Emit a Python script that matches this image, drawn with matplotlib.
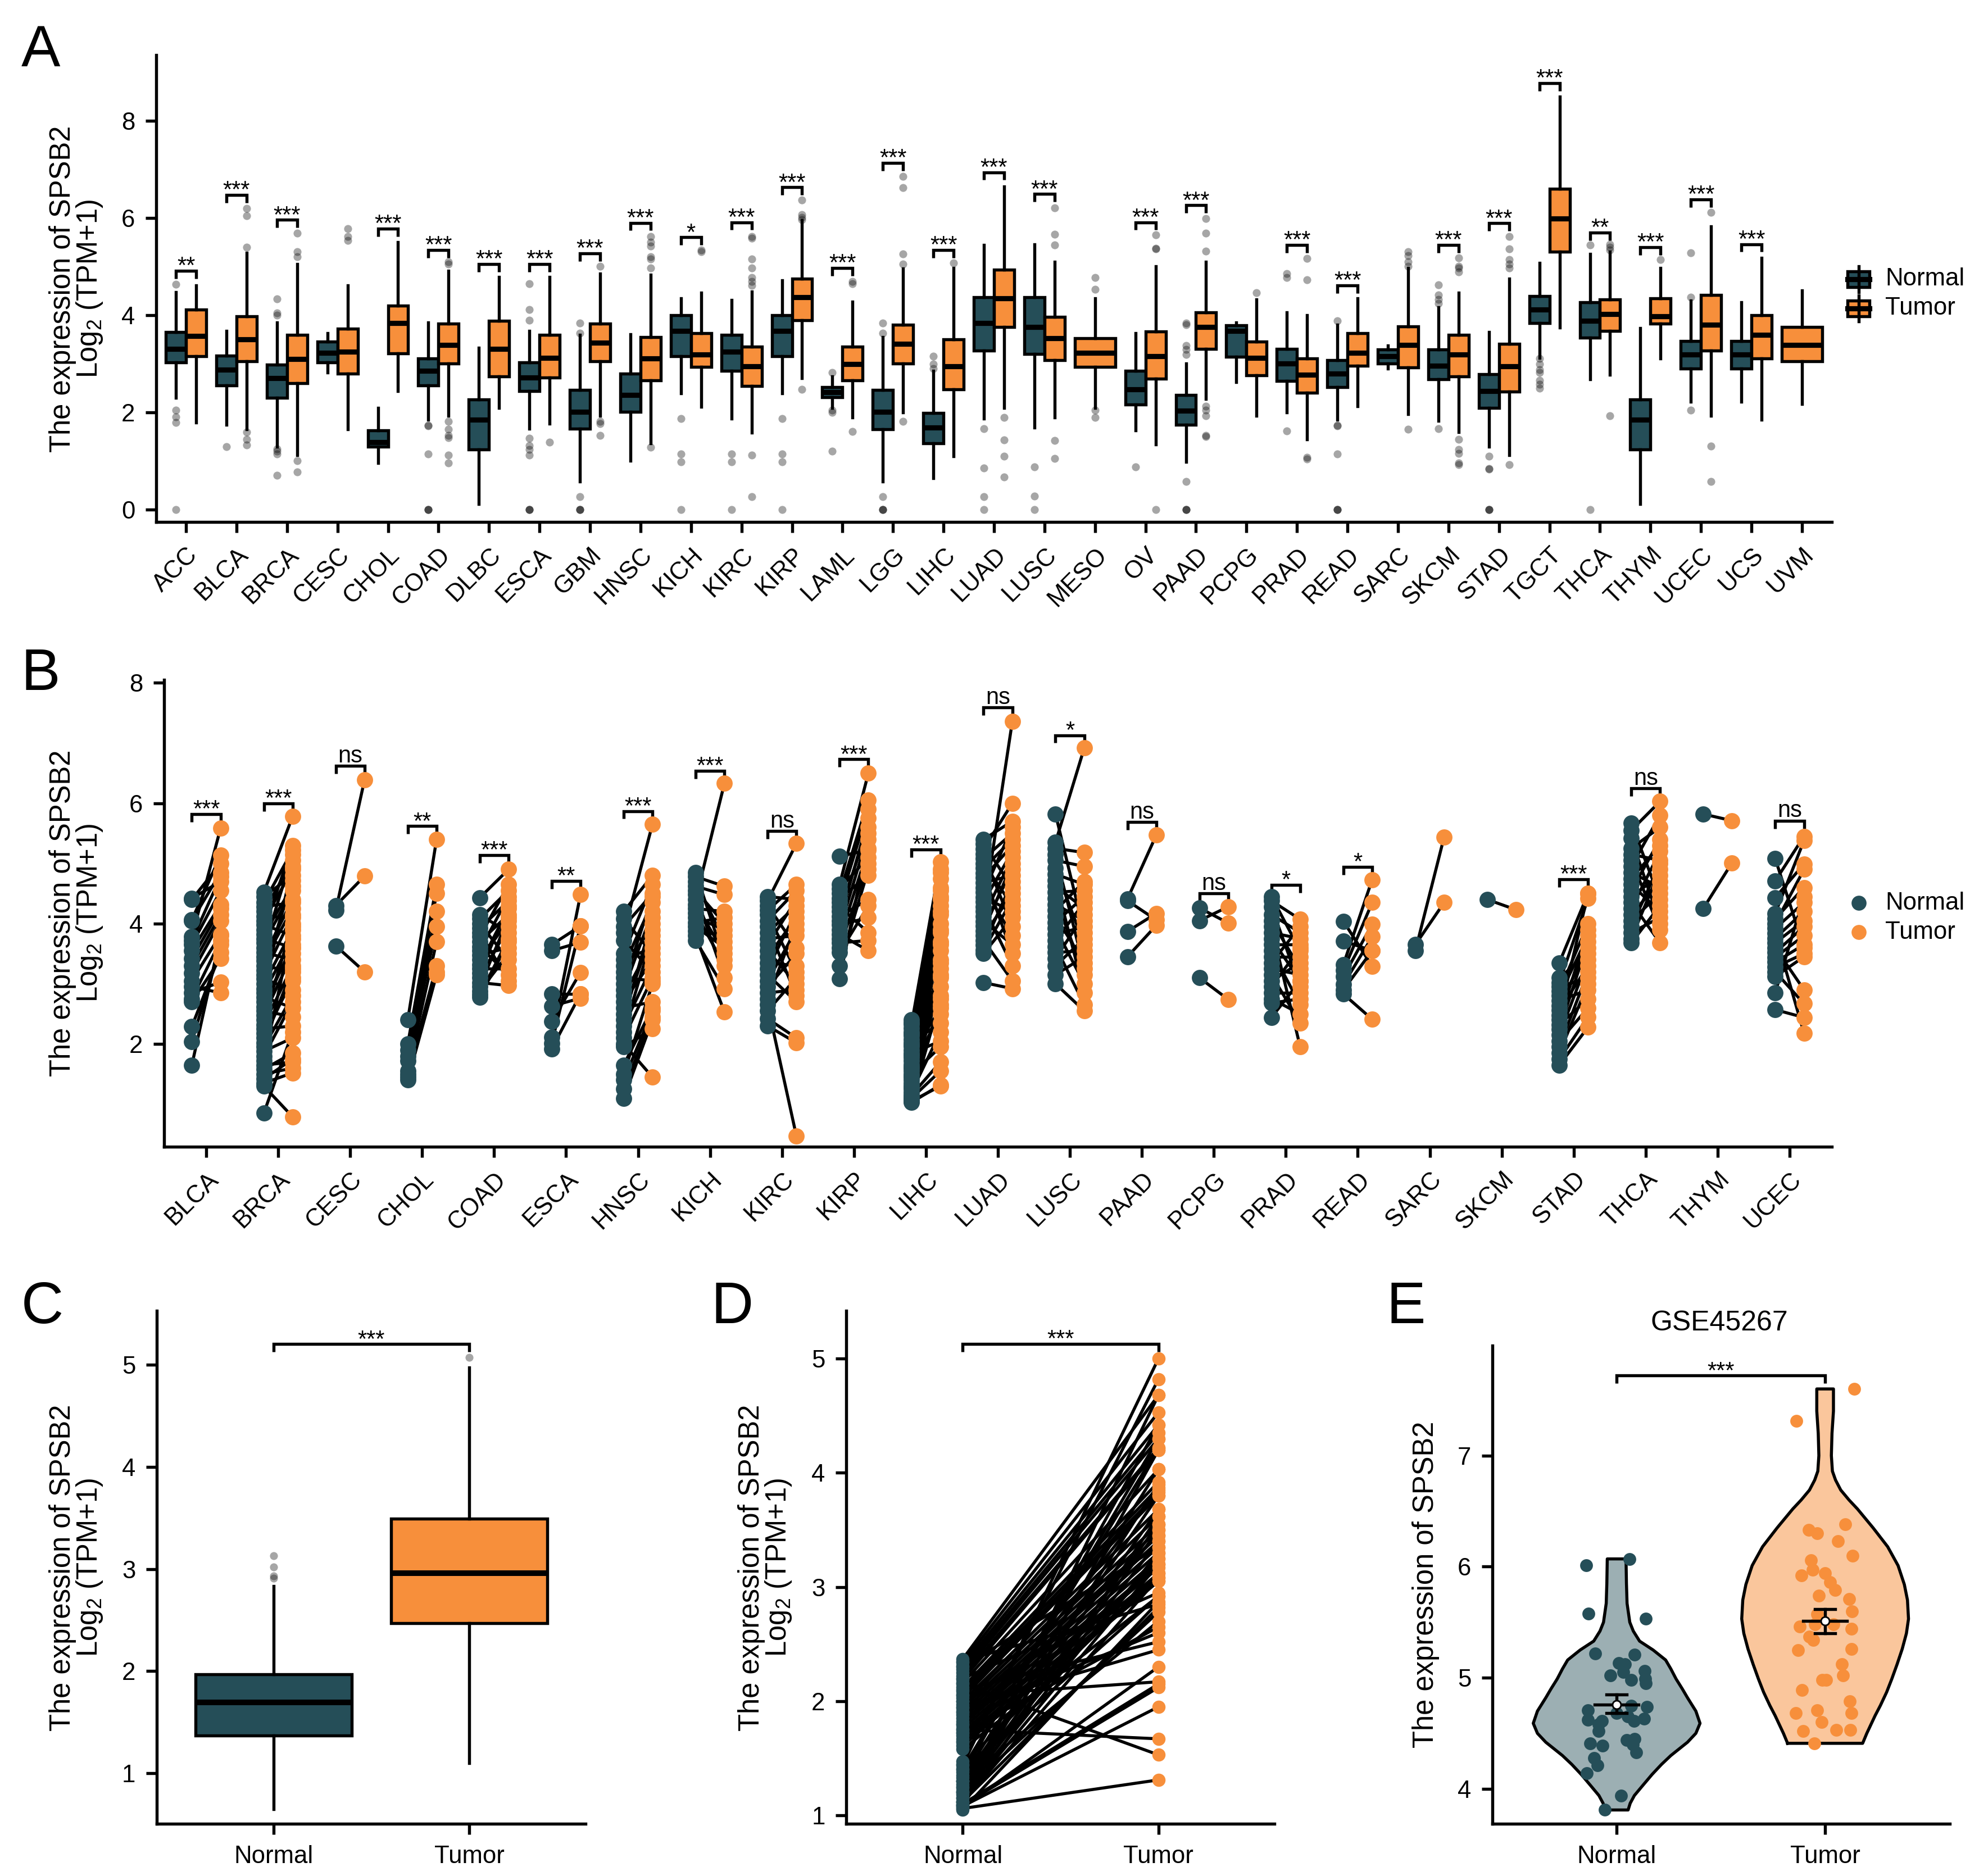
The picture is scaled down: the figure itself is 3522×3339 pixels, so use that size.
import matplotlib
matplotlib.use("Agg")
from matplotlib import pyplot as plt
from matplotlib.patches import Rectangle
from matplotlib.lines import Line2D
import numpy as np

W, H = 3522, 3339
TEAL = "#254E58"
ORANGE = "#F78F3B"
LW = 1.3

plt.rcParams['font.family'] = ['Liberation Sans', 'DejaVu Sans']
plt.rcParams['mathtext.fontset'] = 'custom'
plt.rcParams['mathtext.rm'] = 'Liberation Sans'
plt.rcParams['mathtext.default'] = 'regular'

# ---------- panel A ----------
a_labels = ['ACC','BLCA','BRCA','CESC','CHOL','COAD','DLBC','ESCA','GBM','HNSC','KICH','KIRC','KIRP','LAML','LGG','LIHC','LUAD','LUSC','MESO','OV','PAAD','PCPG','PRAD','READ','SARC','SKCM','STAD','TGCT','THCA','THYM','UCEC','UCS','UVM']

# None means the cancer has no normal samples
a_n_q1 = [3.03,2.56,2.30,3.03,1.30,2.56,1.24,2.44,1.66,2.01,3.15,2.85,3.15,2.31,1.65,1.36,3.27,3.20,None,2.16,1.75,3.14,2.65,2.52,3.01,2.68,2.09,3.84,3.54,1.24,2.90,2.90,None]
a_n_med = [3.31,2.88,2.70,3.23,1.39,2.86,1.85,2.72,2.01,2.36,3.68,3.25,3.68,2.42,2.01,1.69,3.84,3.76,None,2.47,2.03,3.68,3.01,2.80,3.15,2.96,2.44,4.12,3.88,1.85,3.19,3.19,None]
a_n_q3 = [3.65,3.17,2.98,3.46,1.63,3.11,2.27,3.03,2.46,2.80,4.00,3.59,4.00,2.52,2.46,1.99,4.37,4.37,None,2.85,2.36,3.79,3.31,3.07,3.29,3.29,2.78,4.39,4.26,2.27,3.47,3.47,None]
a_n_lo = [2.30,1.75,1.30,2.82,0.96,1.85,0.11,1.66,0.58,1.01,2.39,1.87,2.39,2.09,0.58,0.65,1.87,1.69,None,1.63,0.98,2.62,2.00,1.85,2.90,1.83,1.30,3.12,2.68,0.11,2.22,2.22,None]
a_n_hi = [4.47,3.68,3.85,3.63,2.09,3.85,3.33,3.68,3.59,3.61,4.35,4.31,4.71,2.74,3.55,2.86,5.44,5.46,None,3.63,3.01,3.85,4.06,3.80,3.38,4.16,3.65,5.07,5.26,3.73,4.30,4.27,None]
a_n_out = [[4.63,2.05,1.91,1.79,0],[1.30],[4.33,4.05,4.0,1.25,1.2,1.15,0.71],[],[],[1.73,1.72,1.14,0,0,0],[],[4.65,4.11,3.89,1.47,1.32,1.24,1.12,0,0,0],[3.84,3.63,0.27,0,0,0],[],[1.87,1.14,0.98,0],[1.14,0.98,0],[1.87,1.14,0.98,0],[2.82,2.05,2.0,1.2],[3.84,3.63,0.27,0,0,0],[3.15,2.99,2.9],[1.66,0.86,0.27,0],[0.88,0.28,0],[],[0.88],[3.84,3.8,3.37,3.29,3.19,0.58,0,0,0],[],[4.85,4.77,1.62],[3.88,1.73,1.72,1.14,0,0,0],[],[4.62,4.41,4.32,4.24,1.66],[1.1,0.84,0.83,0,0,0],[3.11,2.99,2.88,2.82,2.66,2.58,2.5],[5.44,0],[],[5.28,4.37,2.05],[],[]]

a_t_q1 = [3.15,3.05,2.60,2.80,3.21,3.01,2.74,2.72,3.05,2.66,2.93,2.54,3.90,2.66,3.01,2.47,3.76,3.07,2.93,2.69,3.31,2.76,2.40,2.96,2.92,2.74,2.43,5.30,3.68,3.82,3.27,3.11,3.05]
a_t_med = [3.57,3.50,3.10,3.25,3.84,3.39,3.31,3.12,3.43,3.11,3.19,2.95,4.37,2.99,3.41,2.95,4.35,3.53,3.23,3.15,3.76,3.12,2.77,3.23,3.39,3.19,2.95,5.99,4.02,3.98,3.80,3.59,3.39]
a_t_q3 = [4.11,3.98,3.60,3.72,4.19,3.82,3.88,3.59,3.82,3.55,3.63,3.35,4.75,3.35,3.80,3.50,4.94,3.96,3.53,3.66,4.06,3.45,3.11,3.63,3.77,3.59,3.41,6.60,4.32,4.35,4.41,4.00,3.76]
a_t_lo = [1.79,1.65,1.12,1.65,2.44,1.93,2.09,1.77,1.93,1.36,2.11,1.58,2.70,1.89,2.00,1.10,2.09,1.89,2.09,1.34,2.28,1.93,1.44,2.13,1.96,1.59,1.12,3.74,2.77,3.11,1.93,1.85,2.17]
a_t_hi = [4.61,5.28,5.05,4.61,5.50,4.91,4.79,4.79,4.85,4.83,4.46,4.49,5.95,4.28,4.96,4.97,6.64,5.10,4.34,5.01,5.10,4.32,4.00,4.34,4.97,4.46,4.75,8.50,5.30,4.97,5.83,5.18,4.51]
a_t_out = [[],[6.2,6.05,5.4,1.6,1.45,1.33],[5.69,5.3,5.2,1.01,0.77],[5.78,5.62,5.54],[],[5.1,5.05,1.81,1.65,1.53,1.48,1.12,0.96],[],[1.39],[5.0,1.81,1.77,1.53],[5.62,5.5,5.42,5.2,5.15,4.97,1.28],[5.34,5.3],[5.62,5.58,5.16,4.97,4.77,4.69,4.61,1.12,0.27],[6.37,6.07,6.01,5.96,2.47],[4.69,4.65,1.61],[6.85,6.62,5.26,5.05,1.81],[5.07],[1.89,1.43,1.1,0.67],[6.21,5.66,5.44,1.42,1.05],[4.77,4.53,2.04,1.89],[5.65,5.38,5.36,0],[5.99,5.69,5.32,2.13,2.05,1.93,1.53,1.5],[4.46],[5.17,4.73,1.08,1.04],[],[5.3,5.22,5.1,5.0,1.65],[5.18,5.01,4.97,4.89,1.44,1.24,1.16,0.96,0.92],[5.62,5.36,5.14,5.05,4.97,0.92],[],[5.46,5.4,5.34,1.93],[5.14],[6.11,1.31,0.58],[],[]]

a_sig_y = [4.91,6.47,5.96,None,5.78,5.34,5.05,5.05,5.27,5.9,5.6,5.91,6.63,4.97,7.13,5.34,6.94,6.49,None,5.91,6.26,None,5.44,4.61,None,5.44,5.89,8.77,5.7,5.4,6.38,5.46,None]
a_sig = ['**','***','***','','***','***','***','***','***','***','*','***','***','***','***','***','***','***','','***','***','','***','***','','***','***','***','**','***','***','***','']

# ---------- panel B, paired samples ----------
b_labels = ['BLCA','BRCA','CESC','CHOL','COAD','ESCA','HNSC','KICH','KIRC','KIRP','LIHC','LUAD','LUSC','PAAD','PCPG','PRAD','READ','SARC','SKCM','STAD','THCA','THYM','UCEC']
b_sig = ['***','***','ns','**','***','**','***','***','ns','***','***','ns','*','ns','ns','*','*','','','***','ns','','ns']
b_sig_y = [5.82,6.0,6.62,5.62,5.14,4.71,5.87,6.54,5.54,6.73,5.23,7.59,7.13,5.69,4.5,4.64,4.94,None,None,4.74,6.25,None,5.71]

blca_n = [4.42,4.40,4.06,4.05,3.78,3.72,3.65,3.55,3.42,3.30,3.18,3.05,2.95,2.85,2.75,2.70,2.29,2.04,1.65]
blca_t = [4.70,5.00,5.14,4.85,5.59,4.78,4.55,4.32,4.25,4.15,4.05,3.82,2.85,3.03,3.72,3.42,3.52,3.65,3.80]
brca_n = [4.52,4.45,4.35,4.28,4.20,4.12,4.05,3.98,3.90,3.82,3.75,3.68,3.60,3.52,3.45,3.38,3.30,3.22,3.15,3.08,3.00,2.92,2.85,2.78,2.70,2.62,2.55,2.48,2.40,2.32,2.25,2.18,2.10,2.02,1.95,1.88,1.80,1.72,1.65,1.58,1.50,1.42,1.35,1.30,0.85]
brca_t = [5.78,4.80,5.22,4.35,5.05,4.10,4.90,3.80,5.30,4.62,3.60,4.55,5.15,3.40,4.40,4.25,3.20,4.72,4.15,2.90,3.90,4.95,3.75,2.60,3.60,3.65,2.45,3.50,4.00,3.30,2.30,3.05,3.10,3.25,2.80,2.10,2.70,3.95,1.70,1.85,1.60,1.75,1.52,0.79,2.20]
cesc_n = [4.30,4.22,3.63]
cesc_t = [4.79,6.39,3.20]
chol_n = [2.40,2.00,1.90,1.80,1.72,1.55,1.50,1.45,1.40]
chol_t = [5.40,4.65,4.50,4.20,3.95,3.70,3.30,3.20,3.15]
coad_n = [4.43,4.15,4.08,4.00,3.92,3.85,3.78,3.70,3.62,3.55,3.48,3.40,3.32,3.25,3.18,3.10,3.02,2.95,2.88,2.82,2.78]
coad_t = [4.90,3.85,4.55,3.40,4.38,3.05,4.65,4.15,3.15,4.45,3.60,4.05,4.25,3.25,4.30,3.95,2.97,4.10,3.50,3.75,3.70]
esca_n = [3.65,3.55,2.83,2.63,2.37,2.11,2.01,1.92]
esca_t = [3.96,3.69,2.83,2.76,3.19,4.48,3.96,2.83]
hnsc_n = [4.20,4.08,3.95,3.85,3.72,3.50,3.40,3.30,3.20,3.10,3.00,2.90,2.80,2.70,2.60,2.50,2.40,2.30,2.20,2.10,2.00,1.95,1.65,1.50,1.40,1.25,1.10]
hnsc_t = [4.80,3.50,4.50,5.65,3.20,4.65,3.60,4.35,4.00,3.05,4.45,4.20,3.70,3.40,2.70,3.90,4.10,3.30,3.80,3.10,1.45,2.25,2.60,3.00,2.55,2.45,2.40]
kich_n = [4.85,4.78,4.70,4.62,4.55,4.48,4.40,4.32,4.25,4.18,4.10,4.02,3.95,3.88,3.80,3.72]
kich_t = [3.40,4.62,3.70,4.48,4.00,3.10,6.33,3.50,4.20,3.30,3.90,4.10,3.60,3.80,2.53,2.92]
kirc_n = [4.45,4.38,4.30,4.22,4.15,4.05,3.95,3.85,3.75,3.65,3.55,3.45,3.35,3.25,3.15,3.05,2.95,2.85,2.75,2.65,2.55,2.42,2.30]
kirc_t = [4.40,5.33,3.60,4.65,3.20,4.55,2.80,4.30,3.80,4.40,3.00,4.10,3.30,4.20,2.70,3.90,3.50,2.90,4.00,0.47,3.10,2.10,2.02]
kirp_n = [5.12,4.65,4.58,4.50,4.42,4.35,4.28,4.20,4.12,4.05,3.98,3.90,3.82,3.75,3.68,3.60,3.52,3.30,3.08]
kirp_t = [5.22,6.50,5.10,6.05,4.80,5.90,3.85,5.60,4.40,5.75,4.10,5.50,3.55,5.25,3.72,5.00,4.30,4.90,5.40]
lihc_n = [2.40,2.33,2.26,2.20,2.14,2.08,2.02,1.96,1.90,1.84,1.78,1.72,1.66,1.60,1.55,1.50,1.45,1.40,1.35,1.30,1.25,1.20,1.15,1.10,1.05,1.03,2.36,2.17,1.98,1.81,1.62,1.47,1.28,1.12,1.08,1.06]
lihc_t = [3.55,5.03,2.80,4.90,3.10,4.45,2.35,4.75,3.85,2.05,4.60,3.25,4.30,2.50,4.15,1.95,4.00,2.95,3.70,2.65,3.40,2.20,1.70,1.55,1.30,1.32,4.20,3.65,4.55,2.60,4.85,3.15,3.90,4.40,3.35,2.75]
luad_n = [5.40,5.32,5.24,5.16,5.08,5.00,4.92,4.84,4.76,4.68,4.60,4.52,4.44,4.36,4.28,4.20,4.12,4.04,3.96,3.88,3.80,3.72,3.64,3.56,3.50,3.02]
luad_t = [5.70,4.60,6.00,3.95,5.50,4.30,5.40,3.50,5.30,4.80,3.80,5.60,4.20,5.20,3.30,7.36,5.10,3.65,4.90,5.00,4.50,3.05,4.70,4.40,4.10,2.92]
lusc_n = [5.82,5.35,5.25,5.15,5.05,4.92,4.82,4.72,4.62,4.52,4.42,4.32,4.22,4.12,4.02,3.92,3.82,3.72,3.62,3.52,3.42,3.30,3.15,3.00]
lusc_t = [3.85,6.92,5.18,3.25,4.95,3.65,4.65,2.85,4.25,4.55,3.15,4.05,4.70,3.35,4.45,3.00,3.95,4.35,2.65,3.55,4.15,3.75,3.45,2.55]
paad_n = [4.41,4.38,3.87,3.45]
paad_t = [5.47,4.06,4.17,3.97]
pcpg_n = [4.26,4.05,3.10]
pcpg_t = [4.01,4.28,2.74]
prad_n = [4.45,4.38,4.28,4.15,4.05,3.95,3.85,3.75,3.65,3.55,3.45,3.35,3.25,3.15,3.05,2.95,2.85,2.75,2.68,2.44]
prad_t = [3.55,4.07,2.95,3.85,3.25,1.95,3.75,3.05,3.65,2.65,3.45,3.95,3.15,2.35,3.35,3.60,2.85,2.50,2.75,3.05]
read_n = [4.04,3.71,3.32,3.22,3.12,2.99,2.90,2.83]
read_t = [3.29,3.55,4.73,4.35,3.99,3.78,3.55,2.41]
sarc_n = [3.65,3.55]
sarc_t = [4.35,5.44]
skcm_n = [4.40]
skcm_t = [4.23]
stad_n = [3.35,3.10,3.02,2.95,2.88,2.80,2.72,2.64,2.56,2.48,2.40,2.32,2.24,2.15,2.05,1.95,1.85,1.75,1.65]
stad_t = [4.50,3.50,4.42,3.10,4.00,3.80,2.90,3.60,3.30,4.50,3.90,2.75,3.70,3.40,2.60,3.20,3.00,2.45,2.28]
thca_n = [5.67,5.55,5.42,5.25,5.15,5.05,4.95,4.85,4.75,4.65,4.55,4.45,4.35,4.25,4.15,4.05,3.95,3.85,3.75,3.68]
thca_t = [4.40,6.03,4.00,5.60,5.05,3.90,5.80,4.60,5.30,4.20,5.40,4.80,3.68,5.20,4.70,4.50,5.00,4.10,4.90,4.30]
thym_n = [5.82,4.25]
thym_t = [5.71,5.01]
ucec_n = [5.08,4.71,4.43,4.17,4.08,4.00,3.92,3.84,3.76,3.68,3.60,3.52,3.44,3.36,3.28,3.20,3.12,2.85,2.57]
ucec_t = [3.60,5.45,4.99,5.38,4.60,4.90,4.35,2.18,4.20,4.05,2.90,3.95,3.80,3.65,3.50,2.67,3.45,4.45,2.44]

b_normal = [blca_n,brca_n,cesc_n,chol_n,coad_n,esca_n,hnsc_n,kich_n,kirc_n,kirp_n,lihc_n,luad_n,lusc_n,paad_n,pcpg_n,prad_n,read_n,sarc_n,skcm_n,stad_n,thca_n,thym_n,ucec_n]
b_tumor = [blca_t,brca_t,cesc_t,chol_t,coad_t,esca_t,hnsc_t,kich_t,kirc_t,kirp_t,lihc_t,luad_t,lusc_t,paad_t,pcpg_t,prad_t,read_t,sarc_t,skcm_t,stad_t,thca_t,thym_t,ucec_t]

# ---------- panel C ----------
groups = ['Normal', 'Tumor']
c_q1 = [1.37, 2.47]
c_med = [1.695, 2.96]
c_q3 = [1.97, 3.49]
c_lo = [0.65, 1.10]
c_hi = [2.83, 4.97]
c_out = [[3.13, 3.02, 2.93, 2.91], [5.07]]

# ---------- panel D ----------
d_normal = [2.37,2.34,2.31,2.28,2.25,2.22,2.19,2.16,2.12,2.09,2.06,2.03,2.00,1.97,1.94,1.91,1.88,1.85,1.82,1.79,1.76,1.73,1.70,1.67,1.64,1.61,1.58,1.47,1.44,1.41,1.38,1.33,1.30,1.27,1.24,1.21,1.18,1.15,1.12,1.10,1.09,1.08,1.07,1.06,1.05,1.12,1.20,1.30,1.75,1.95,2.05,2.15,1.09,1.12,1.15,1.20,1.25,1.30,1.35,1.40,1.45,1.65,1.72,1.80,1.90,2.00,2.10,2.20,2.30,2.35]
d_tumor = [4.68,4.53,4.42,4.35,4.30,4.22,4.20,4.03,3.92,3.87,3.83,3.80,3.68,3.62,3.55,3.50,3.45,3.40,3.35,3.30,3.25,3.20,3.17,3.12,3.08,3.05,2.92,4.82,5.00,4.22,4.30,4.03,3.80,3.68,3.55,3.40,3.30,3.20,3.08,2.15,2.12,1.95,2.30,1.31,2.87,2.82,2.78,2.70,1.67,2.45,2.17,1.53,3.62,4.20,4.68,3.50,3.90,3.25,4.42,2.92,3.12,3.85,2.65,3.45,2.60,3.05,2.52,2.95,3.35,2.85]

# ---------- panel E ----------
e_normal_x = [-0.147,0.062,-0.135,0.139,-0.104,0.085,0.01,0.04,0.031,0.135,-0.029,0.071,0.137,0.141,-0.137,0.145,0.069,0,-0.137,-0.071,-0.087,-0.087,0.131,0.054,0.083,0.048,0.087,0.079,-0.127,-0.068,0.093,-0.108,-0.091,-0.143,0.021,-0.056]
e_normal_y = [6.01,6.07,5.58,5.53,5.22,5.21,5.13,5.12,5.05,5.06,5.02,4.98,4.99,4.95,4.71,4.74,4.75,4.68,4.62,4.61,4.58,4.52,4.63,4.65,4.61,4.44,4.45,4.40,4.41,4.39,4.33,4.28,4.21,4.14,3.94,3.81]
e_tumor_x = [0.141,-0.139,0.098,-0.079,-0.039,0.062,0.133,-0.069,-0.06,-0.114,0,0.023,0.048,-0.029,0.116,0.129,-0.039,-0.048,-0.122,0.039,0.125,-0.077,-0.058,-0.129,0.125,0.081,0.087,-0.014,0.006,-0.112,0.118,-0.039,-0.141,0.125,-0.017,-0.106,0.054,0.122,-0.052]
e_tumor_y = [7.60,7.31,6.38,6.33,6.30,6.23,6.10,6.06,5.97,5.92,5.94,5.86,5.79,5.74,5.71,5.60,5.57,5.48,5.46,5.48,5.44,5.37,5.34,5.25,5.26,5.12,5.02,4.98,4.98,4.89,4.79,4.71,4.68,4.68,4.60,4.52,4.53,4.53,4.41]
# violin outlines: level and half width
vio_n_y = [3.81,3.87,3.94,4.03,4.13,4.22,4.30,4.36,4.42,4.50,4.59,4.70,4.82,4.90,4.99,5.08,5.16,5.25,5.33,5.42,5.50,5.67,5.85,6.07]
vio_n_w = [0.055,0.065,0.085,0.125,0.17,0.215,0.26,0.30,0.34,0.38,0.40,0.38,0.34,0.315,0.285,0.26,0.235,0.175,0.11,0.08,0.063,0.05,0.047,0.045]
vio_t_y = [4.41,4.50,4.58,4.66,4.75,4.87,4.99,5.12,5.26,5.40,5.53,5.70,5.84,6.01,6.18,6.35,6.52,6.60,6.69,6.78,6.86,7.0,7.2,7.4,7.6]
vio_t_w = [0.18,0.20,0.22,0.24,0.265,0.295,0.32,0.345,0.37,0.39,0.40,0.395,0.38,0.35,0.30,0.23,0.155,0.115,0.075,0.05,0.035,0.03,0.033,0.04,0.04]
e_mean = [4.76, 5.51]
e_err_lo = [4.68, 5.40]
e_err_hi = [4.85, 5.62]


def make_axes(fig, left, right, bottom, top):
    # bounds given in picture pixels, y counted from the top
    ax = fig.add_axes([left/W, 1-bottom/H, (right-left)/W, (bottom-top)/H])
    ax.spines['top'].set_visible(False)
    ax.spines['right'].set_visible(False)
    ax.spines['left'].set_linewidth(LW)
    ax.spines['bottom'].set_linewidth(LW)
    ax.tick_params(length=4.5, width=LW, labelsize=10.5, pad=4.5)
    ax.patch.set_alpha(0)
    return ax


def draw_boxes(ax, pos, q1, med, q3, lo, hi, out, width, color, med_lw=2.2):
    stats = []
    keep = []
    for i in range(len(pos)):
        if q1[i] is None:
            continue
        stats.append(dict(q1=q1[i], med=med[i], q3=q3[i], whislo=lo[i], whishi=hi[i], fliers=out[i]))
        keep.append(pos[i])
    ax.bxp(stats, positions=keep, widths=width, patch_artist=True, showcaps=False, manage_ticks=False,
           boxprops=dict(facecolor=color, edgecolor='black', linewidth=LW),
           medianprops=dict(color='black', linewidth=med_lw, solid_capstyle='butt'),
           whiskerprops=dict(color='black', linewidth=LW),
           flierprops=dict(marker='o', markersize=3.4, markerfacecolor='black', markeredgecolor='none', alpha=0.35))


def bracket(ax, x0, x1, y, tip, label):
    ax.plot([x0, x0, x1, x1], [y-tip, y, y, y-tip], color='black', lw=LW, solid_capstyle='butt', solid_joinstyle='miter', clip_on=False)
    off = 1.5 if label == 'ns' else -1.0
    ax.annotate(label, ((x0+x1)/2, y), xytext=(0, off), textcoords='offset points', ha='center', va='baseline', fontsize=10, annotation_clip=False)


def ylabel(fig, x, y, text):
    fig.text(x/W, 1-y/H, text, rotation=90, ha='center', va='center', fontsize=12.2)


def panel_letter(fig, x, y, letter):
    fig.text(x/W, 1-y/H, letter, ha='left', va='baseline', fontsize=25)


fig = plt.figure(figsize=(W/300, H/300), dpi=300, facecolor='white')

# A
ax_a = make_axes(fig, 278, 3260, 929.5, 98)
pos = np.arange(len(a_labels))
draw_boxes(ax_a, pos-0.2, a_n_q1, a_n_med, a_n_q3, a_n_lo, a_n_hi, a_n_out, 0.4, TEAL)
only_tumor = [q is None for q in a_n_q1]
t_pos = [p if o else p+0.2 for p, o in zip(pos, only_tumor)]
for i in range(len(pos)):
    w = 0.8 if only_tumor[i] else 0.4
    draw_boxes(ax_a, [t_pos[i]], [a_t_q1[i]], [a_t_med[i]], [a_t_q3[i]], [a_t_lo[i]], [a_t_hi[i]], [a_t_out[i]], w, ORANGE)
for i in range(len(pos)):
    if a_sig_y[i] is not None:
        bracket(ax_a, i-0.2, i+0.2, a_sig_y[i], 0.16, a_sig[i])
ax_a.set_xlim(-0.59, 32.59)
ax_a.set_ylim(-0.26, 9.35)
ax_a.set_yticks([0, 2, 4, 6, 8])
ax_a.set_xticks(pos)
ax_a.set_xticklabels(a_labels, rotation=45, ha='right', rotation_mode='anchor')

# B
ax_b = make_axes(fig, 292, 3260, 2041, 1210)
pos_b = np.arange(len(b_labels))
for i in range(len(b_labels)):
    for n, t in zip(b_normal[i], b_tumor[i]):
        ax_b.plot([i-0.2, i+0.2], [n, t], color='black', lw=LW, zorder=2)
    ax_b.scatter([i-0.2]*len(b_normal[i]), b_normal[i], s=48, color=TEAL, linewidths=0, zorder=3)
    ax_b.scatter([i+0.2]*len(b_tumor[i]), b_tumor[i], s=48, color=ORANGE, linewidths=0, zorder=3)
    if b_sig_y[i] is not None:
        bracket(ax_b, i-0.2, i+0.2, b_sig_y[i], 0.13, b_sig[i])
ax_b.set_xlim(-0.586, 22.586)
ax_b.set_ylim(0.293, 8.05)
ax_b.set_yticks([2, 4, 6, 8])
ax_b.set_xticks(pos_b)
ax_b.set_xticklabels(b_labels, rotation=45, ha='right', rotation_mode='anchor')

# C
ax_c = make_axes(fig, 279, 1042, 3246, 2333)
draw_boxes(ax_c, [0], c_q1[:1], c_med[:1], c_q3[:1], c_lo[:1], c_hi[:1], c_out[:1], 0.8, TEAL, med_lw=2.4)
draw_boxes(ax_c, [1], c_q1[1:], c_med[1:], c_q3[1:], c_lo[1:], c_hi[1:], c_out[1:], 0.8, ORANGE, med_lw=2.4)
bracket(ax_c, 0, 1, 5.2, 0.075, '***')
ax_c.set_xlim(-0.597, 1.594)
ax_c.set_ylim(0.506, 5.527)
ax_c.set_yticks([1, 2, 3, 4, 5])
ax_c.set_xticks([0, 1])
ax_c.set_xticklabels(groups)

# D
ax_d = make_axes(fig, 1506, 2268, 3246, 2333)
for n, t in zip(d_normal, d_tumor):
    ax_d.plot([0, 1], [n, t], color='black', lw=LW, zorder=2)
ax_d.scatter([0]*len(d_normal), d_normal, s=32, color=TEAL, linewidths=0, zorder=3)
ax_d.scatter([1]*len(d_tumor), d_tumor, s=32, color=ORANGE, linewidths=0, zorder=3)
bracket(ax_d, 0, 1, 5.13, 0.07, '***')
ax_d.set_xlim(-0.596, 1.593)
ax_d.set_ylim(0.926, 5.42)
ax_d.set_yticks([1, 2, 3, 4, 5])
ax_d.set_xticks([0, 1])
ax_d.set_xticklabels(groups)

# E
ax_e = make_axes(fig, 2656, 3470, 3246, 2395)
vy = np.array(vio_n_y)
vw = np.array(vio_n_w)
ax_e.fill_betweenx(vy, -vw, vw, facecolor=TEAL, alpha=0.45, linewidth=0, zorder=1)
ax_e.plot(np.r_[-vw, vw[::-1], -vw[0]], np.r_[vy, vy[::-1], vy[0]], color='black', lw=LW, zorder=2)
vy = np.array(vio_t_y)
vw = np.array(vio_t_w)
ax_e.fill_betweenx(vy, 1-vw, 1+vw, facecolor=ORANGE, alpha=0.5, linewidth=0, zorder=1)
ax_e.plot(np.r_[1-vw, 1+vw[::-1], 1-vw[0]], np.r_[vy, vy[::-1], vy[0]], color='black', lw=LW, zorder=2)
ax_e.scatter(e_normal_x, e_normal_y, s=30, color=TEAL, linewidths=0, zorder=3, clip_on=False)
ax_e.scatter(np.array(e_tumor_x)+1, e_tumor_y, s=30, color=ORANGE, linewidths=0, zorder=3, clip_on=False)
for i in range(2):
    ax_e.plot([i, i], [e_err_lo[i], e_err_hi[i]], color='black', lw=LW, zorder=4)
    ax_e.plot([i-0.048, i+0.048], [e_err_lo[i], e_err_lo[i]], color='black', lw=LW, zorder=4)
    ax_e.plot([i-0.048, i+0.048], [e_err_hi[i], e_err_hi[i]], color='black', lw=LW, zorder=4)
    ax_e.plot([i-0.105, i+0.105], [e_mean[i], e_mean[i]], color='black', lw=LW, zorder=4)
    ax_e.scatter([i], [e_mean[i]], s=13, color='white', edgecolors='black', linewidths=0.7, zorder=5)
bracket(ax_e, 0, 1, 7.72, 0.07, '***')
ax_e.set_xlim(-0.596, 1.598)
ax_e.set_ylim(3.686, 7.99)
ax_e.set_yticks([4, 5, 6, 7])
ax_e.set_xticks([0, 1])
ax_e.set_xticklabels(groups)
fig.text(3060/W, 1-2355/H, 'GSE45267', ha='center', va='center', fontsize=12)

# axis titles and panel letters
line1 = 'The expression of SPSB2'
line2 = 'Log$_2$ (TPM+1)'
ylabel(fig, 112, 514, line1)
ylabel(fig, 160, 514, line2)
ylabel(fig, 112, 1625, line1)
ylabel(fig, 160, 1625, line2)
ylabel(fig, 112, 2790, line1)
ylabel(fig, 160, 2790, line2)
ylabel(fig, 1338, 2790, line1)
ylabel(fig, 1386, 2790, line2)
ylabel(fig, 2537, 2820, line1)
panel_letter(fig, 38, 118, 'A')
panel_letter(fig, 38, 1228, 'B')
panel_letter(fig, 38, 2355, 'C')
panel_letter(fig, 1266, 2355, 'D')
panel_letter(fig, 2468, 2355, 'E')

# legends, drawn by hand in figure space
for y, c, name in [(497, TEAL, 'Normal'), (549, ORANGE, 'Tumor')]:
    fig.add_artist(Line2D([3308/W, 3308/W], [1-(y-23)/H, 1-(y+23)/H], color='black', lw=LW))
    fig.add_artist(Rectangle((3288/W, 1-(y+14)/H), 39/W, 28/H, facecolor=c, edgecolor='black', lw=LW, transform=fig.transFigure))
    fig.add_artist(Line2D([3288/W, 3327/W], [1-y/H, 1-y/H], color='black', lw=2.2))
    fig.text(3355/W, 1-y/H, name, ha='left', va='center', fontsize=10.5)
for y, c, name in [(1607, TEAL, 'Normal'), (1659, ORANGE, 'Tumor')]:
    fig.add_artist(Line2D([3308/W], [1-y/H], marker='o', markersize=6.4, color=c, markeredgewidth=0, linestyle='none'))
    fig.text(3355/W, 1-y/H, name, ha='left', va='center', fontsize=10.5)

fig.savefig("out.png", dpi=300, facecolor="white")
